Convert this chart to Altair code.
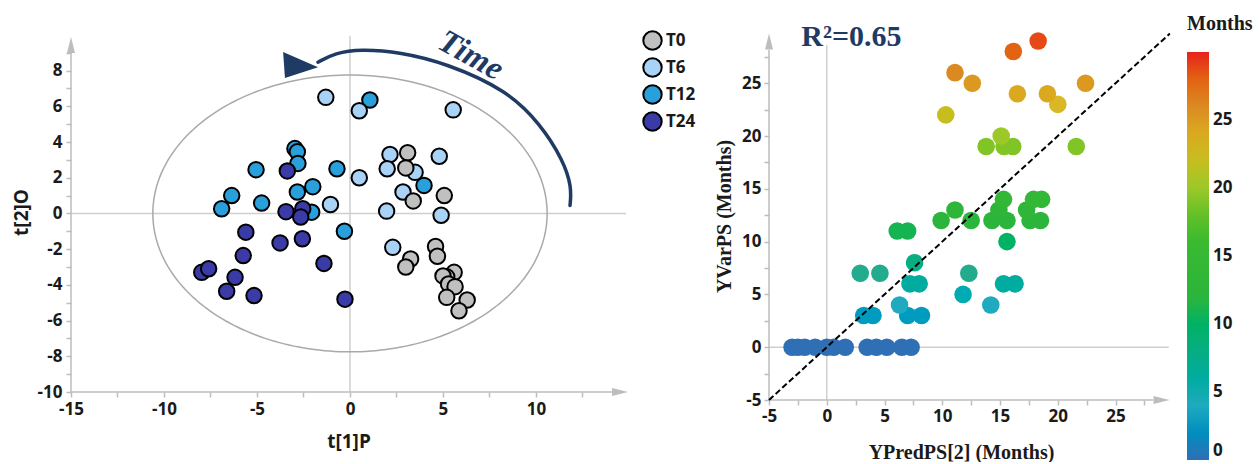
import altair as alt
import pandas as pd
import numpy as np

# ---------------- Left panel data (OPLS-DA score plot) ----------------
groups = ["T0", "T6", "T12", "T24"]
group_colors = ["#c0c0c0", "#a8d3f6", "#29a0dc", "#3b3ba8"]

t0_x = [3.1, 3.0, 3.4, 5.07, 4.6, 4.7, 3.26, 3.0, 5.6, 5.2, 5.0, 5.3, 5.65, 5.2, 6.3, 5.86]
t0_y = [3.4, 2.55, 0.7, 1.0, -1.85, -2.4, -2.55, -3.0, -3.3, -3.55, -3.5, -3.95, -4.1, -4.7, -4.85, -5.45]

t6_x = [-1.3, 0.5, 5.55, 2.15, 4.8, 3.5, 2.0, 0.5, 2.85, -1.05, 1.97, 4.9, 2.3]
t6_y = [6.5, 5.75, 5.8, 3.3, 3.2, 2.3, 2.5, 2.0, 1.2, 0.5, 0.13, -0.1, -1.9]

t12_x = [1.07, -2.96, -2.83, -2.8, -5.05, -0.7, -2.0, -2.83, -6.36, -6.9, -4.75, -2.06, -0.3, 3.98]
t12_y = [6.35, 3.63, 3.45, 2.8, 2.45, 2.5, 1.5, 1.2, 1.0, 0.26, 0.58, 0.07, -1.0, 1.57]

t24_x = [-3.37, -3.44, -2.54, -2.65, -5.6, -3.76, -2.56, -5.74, -1.4, -7.97, -7.6, -6.18, -6.63, -5.16, -0.27]
t24_y = [2.38, 0.1, 0.26, -0.2, -1.05, -1.65, -1.42, -2.36, -2.8, -3.3, -3.1, -3.58, -4.36, -4.6, -4.8]

# ---------------- Right panel data (predicted vs observed months) ----------------
pred_x = [-3.0, -2.5, -1.9, -1.0, 0.0, 0.6, 1.6, 3.5, 4.3, 5.2, 6.5, 7.3,
          3.2, 4.0, 7.0, 8.2,
          6.3, 14.2,
          11.8,
          7.2, 8.0, 15.3, 16.3,
          2.9, 4.6, 12.3,
          7.6,
          15.6,
          6.1, 7.0,
          9.9, 12.5, 14.3, 15.6, 17.6, 18.5,
          11.1, 14.9, 17.3,
          15.3, 17.9, 18.6,
          13.8, 15.35, 16.1, 21.6,
          15.1,
          10.3,
          20.0,
          16.5, 19.1,
          12.6, 22.4,
          11.1,
          16.15,
          18.3]
obs_y = [0, 0, 0, 0, 0, 0, 0, 0, 0, 0, 0, 0,
         3, 3, 3, 3,
         4, 4,
         5,
         6, 6, 6, 6,
         7, 7, 7,
         8,
         10,
         11, 11,
         12, 12, 12, 12, 12, 12,
         13, 13, 13,
         14, 14, 14,
         19, 19, 19, 19,
         20,
         22,
         23,
         24, 24,
         25, 25,
         26,
         28,
         29]

month_stops = [0, 4, 7, 12, 17, 20, 23, 26, 30]
month_colors = ["#2e6fb5", "#1faabf", "#22ab8c", "#2cb53c", "#3cbb2c",
                "#9cc828", "#d8b825", "#db8a22", "#e8221c"]
month_ticks = [0, 5, 10, 15, 20, 25]

# ---------------- Styles ----------------
FONT = "Open Sans"
SERIF = "Liberation Serif"
AXIS_GRAY = "#bdbdbd"
ZERO_GRAY = "#cfcfcf"
NAVY = "#1f3b63"
LABEL_COLOR = "#1a1a1a"

# Left panel geometry (data units)
LX = [-15, 14.84]
LY = [-10, 10.16]
ELL_A, ELL_B = 10.6, 7.75

# Right panel geometry
RX = [-5, 29.8]
RY = [-5, 29.85]


def axis_style(**kw):
    base = dict(grid=False, domain=False, tickColor=AXIS_GRAY, tickSize=5, tickWidth=1.5,
                labelFont=FONT, labelFontSize=17, labelFontWeight="bold", labelColor=LABEL_COLOR,
                labelFlush=False, labelOverlap=False, labelPadding=4)
    base.update(kw)
    return alt.Axis(**base)


lx_axis = axis_style(values=[float(v) for v in np.arange(-15, 13, 2.5)],
                     labelExpr="datum.value % 5 == 0 ? '' + datum.value : ''",
                     title="t[1]P", titleFont=FONT, titleFontSize=19, titleFontWeight="bold",
                     titleColor=LABEL_COLOR, titleY=55, titleBaseline="alphabetic")
ly_axis = axis_style(values=[int(v) for v in range(-10, 10)],
                     labelExpr="datum.value % 2 == 0 ? '' + datum.value : ''",
                     title="t[2]O", titleFont=FONT, titleFontSize=19, titleFontWeight="bold",
                     titleColor=LABEL_COLOR, titleX=-40, titleAngle=270, titleBaseline="bottom")

lxs = alt.Scale(domain=LX, nice=False, zero=False)
lys = alt.Scale(domain=LY, nice=False, zero=False)


def LXe(field="x"):
    return alt.X(f"{field}:Q", scale=lxs, axis=lx_axis)


def LYe(field="y"):
    return alt.Y(f"{field}:Q", scale=lys, axis=ly_axis)


frames = []
order = ["T12", "T24", "T6", "T0"]
src = {"T0": (t0_x, t0_y), "T6": (t6_x, t6_y), "T12": (t12_x, t12_y), "T24": (t24_x, t24_y)}
for g in order:
    xs, ys = src[g]
    frames.append(pd.DataFrame({"x": xs, "y": ys, "group": g}))
left_df = pd.concat(frames, ignore_index=True)

theta = np.linspace(0, 2 * np.pi, 241)
ell_df = pd.DataFrame({"x": ELL_A * np.cos(theta), "y": ELL_B * np.sin(theta), "i": np.arange(len(theta))})

zero_v = alt.Chart(pd.DataFrame({"x": [0], "y": [LY[0]], "y2": [9.95]})).mark_rule(
    color=ZERO_GRAY, strokeWidth=1.5).encode(x=LXe(), y=LYe(), y2="y2:Q")
zero_h = alt.Chart(pd.DataFrame({"y": [0], "x": [LX[0]], "x2": [LX[1]]})).mark_rule(
    color=ZERO_GRAY, strokeWidth=1.5).encode(y=LYe(), x=LXe(), x2="x2:Q")
axl_v = alt.Chart(pd.DataFrame({"x": [LX[0]], "y": [LY[0]], "y2": [9.1]})).mark_rule(
    color=AXIS_GRAY, strokeWidth=1.5).encode(x=LXe(), y=LYe(), y2="y2:Q")
axl_h = alt.Chart(pd.DataFrame({"y": [LY[0]], "x": [LX[0]], "x2": [14.15]})).mark_rule(
    color=AXIS_GRAY, strokeWidth=1.5).encode(y=LYe(), x=LXe(), x2="x2:Q")
arr_up_l = alt.Chart(pd.DataFrame({"x": [LX[0]], "y": [9.43]})).mark_point(
    shape="M 0 -1 L 0.5 1 L -0.5 1 Z", size=256, filled=True, color=AXIS_GRAY, opacity=1
).encode(x=LXe(), y=LYe())
arr_rt_l = alt.Chart(pd.DataFrame({"x": [14.52], "y": [LY[0]]})).mark_point(
    shape="M 1 0 L -1 -0.5 L -1 0.5 Z", size=256, filled=True, color=AXIS_GRAY, opacity=1
).encode(x=LXe(), y=LYe())

ellipse = alt.Chart(ell_df).mark_line(color="#a9a9a9", strokeWidth=1.5).encode(
    x=LXe(), y=LYe(), order="i:Q")

points_l = alt.Chart(left_df).mark_circle(size=240, opacity=1, stroke="black", strokeWidth=2).encode(
    x=LXe(), y=LYe(),
    color=alt.Color("group:N", scale=alt.Scale(domain=groups, range=group_colors),
                    legend=alt.Legend(orient="none", legendX=571, legendY=-2, title=None,
                                      symbolType="circle", symbolSize=340, symbolStrokeColor="black",
                                      symbolStrokeWidth=2, symbolOpacity=1,
                                      labelFont=FONT, labelFontSize=17, labelFontWeight="bold",
                                      labelColor=LABEL_COLOR, rowPadding=0, labelOffset=3)),
)

# Time arrow (annotation)
arc_x = [-1.72, -0.8, 0.55, 2.7, 5.2, 8.43, 10.22, 11.47, 11.92, 11.83]
arc_y = [8.47, 8.98, 9.2, 9.03, 8.4, 6.9, 5.03, 2.97, 1.48, 0.45]
arc = alt.Chart(pd.DataFrame({"x": arc_x, "y": arc_y, "i": range(len(arc_x))})).mark_line(
    color=NAVY, strokeWidth=3.5, interpolate="basis", strokeCap="round").encode(
    x=LXe(), y=LYe(), order="i:Q")
arrow_head = alt.Chart(pd.DataFrame({"x": [-2.94], "y": [8.27]})).mark_point(
    shape="M -0.53 -0.6 L -0.45 0.53 L 0.99 0.06 Z", size=2116, filled=True, color=NAVY, opacity=1
).encode(x=LXe(), y=LYe())
time_txt = alt.Chart(pd.DataFrame({"x": [6.5], "y": [8.85], "t": ["Time"]})).mark_text(
    font=SERIF, fontSize=33, fontStyle="italic", fontWeight="bold", color=NAVY, angle=29
).encode(x=LXe(), y=LYe(), text="t:N")

left = alt.layer(zero_v, zero_h, axl_v, axl_h, arr_up_l, arr_rt_l, ellipse, points_l,
                 arc, arrow_head, time_txt).properties(width=555, height=360)

# ---------------- Right panel ----------------
rxs = alt.Scale(domain=RX, nice=False, zero=False)
rys = alt.Scale(domain=RY, nice=False, zero=False)
rx_axis = axis_style(values=[float(v) for v in np.arange(-5, 28, 2.5)],
                     labelExpr="datum.value % 5 == 0 ? '' + datum.value : ''", labelPadding=3,
                     title="YPredPS[2] (Months)", titleFont=SERIF, titleFontSize=20,
                     titleFontWeight="bold", titleColor=LABEL_COLOR, titleY=58,
                     titleX=192, titleBaseline="alphabetic")
ry_axis = axis_style(values=[float(v) for v in np.arange(-5, 28, 2.5)],
                     labelExpr="datum.value % 5 == 0 ? '' + datum.value : ''", labelPadding=3,
                     title="YVarPS (Months)", titleFont=SERIF, titleFontSize=20,
                     titleFontWeight="bold", titleColor=LABEL_COLOR, titleX=-35, titleAngle=270,
                     titleBaseline="bottom")


def RXe(field="x"):
    return alt.X(f"{field}:Q", scale=rxs, axis=rx_axis)


def RYe(field="y"):
    return alt.Y(f"{field}:Q", scale=rys, axis=ry_axis)


right_df = pd.DataFrame({"x": pred_x, "y": obs_y})

rzero_v = alt.Chart(pd.DataFrame({"x": [0], "y": [RY[0]], "y2": [28.6]})).mark_rule(
    color=ZERO_GRAY, strokeWidth=1.5).encode(x=RXe(), y=RYe(), y2="y2:Q")
rzero_h = alt.Chart(pd.DataFrame({"y": [0], "x": [RX[0]], "x2": [29.6]})).mark_rule(
    color=ZERO_GRAY, strokeWidth=1.5).encode(y=RYe(), x=RXe(), x2="x2:Q")
axr_v = alt.Chart(pd.DataFrame({"x": [RX[0]], "y": [RY[0]], "y2": [28.14]})).mark_rule(
    color=AXIS_GRAY, strokeWidth=1.5).encode(x=RXe(), y=RYe(), y2="y2:Q")
axr_h = alt.Chart(pd.DataFrame({"y": [RY[0]], "x": [RX[0]], "x2": [28.25]})).mark_rule(
    color=AXIS_GRAY, strokeWidth=1.5).encode(y=RYe(), x=RXe(), x2="x2:Q")
arr_up_r = alt.Chart(pd.DataFrame({"x": [RX[0]], "y": [28.95]})).mark_point(
    shape="M 0 -1 L 0.5 1 L -0.5 1 Z", size=256, filled=True, color=AXIS_GRAY, opacity=1
).encode(x=RXe(), y=RYe())
arr_rt_r = alt.Chart(pd.DataFrame({"x": [28.98], "y": [RY[0]]})).mark_point(
    shape="M 1 0 L -1 -0.5 L -1 0.5 Z", size=256, filled=True, color=AXIS_GRAY, opacity=1
).encode(x=RXe(), y=RYe())

diag = alt.Chart(pd.DataFrame({"x": [RX[0], 29.7], "y": [RY[0], 29.7]})).mark_line(
    color="black", strokeWidth=2, strokeDash=[6, 3]).encode(x=RXe(), y=RYe())

points_r = alt.Chart(right_df).mark_circle(size=310, opacity=1).encode(
    x=RXe(), y=RYe(),
    color=alt.Color("y:Q", scale=alt.Scale(domain=month_stops, range=month_colors),
                    legend=alt.Legend(orient="none", legendX=418, legendY=-18, title="Months",
                                      titleFont=SERIF, titleFontSize=20, titleFontWeight="bold",
                                      titleColor=LABEL_COLOR, titlePadding=18,
                                      gradientLength=408, gradientThickness=22,
                                      gradientStrokeWidth=0, values=month_ticks,
                                      labelFont=FONT, labelFontSize=17, labelFontWeight="bold",
                                      labelColor=LABEL_COLOR, labelOffset=4, direction="vertical")),
)

r2_txt = alt.Chart(pd.DataFrame({"x": [-2.2], "y": [28.52], "t": ["R\u00b2=0.65"]})).mark_text(
    font=SERIF, fontSize=30, fontWeight="bold", color=NAVY, align="left", baseline="alphabetic"
).encode(x=RXe(), y=RYe(), text="t:N")

right = alt.layer(rzero_v, rzero_h, axr_v, axr_h, arr_up_r, arr_rt_r, points_r, diag, r2_txt
                  ).properties(width=402, height=368)

chart = alt.hconcat(left, right, spacing=18).resolve_scale(color="independent").properties(
    padding={"left": 12, "top": 14, "right": 0, "bottom": 0},
    background="white",
).configure_view(stroke=None)

chart.save("out.html", embed_options={"renderer": "svg", "actions": False})
